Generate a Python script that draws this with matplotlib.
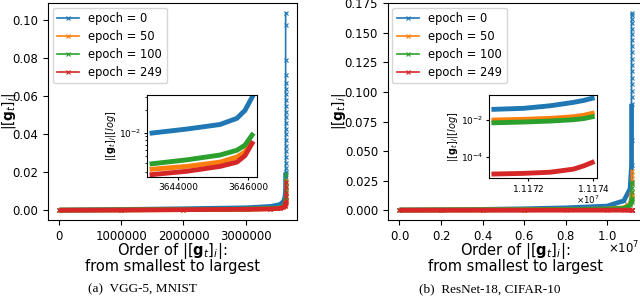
import matplotlib.pyplot as plt
import numpy as np

# sorted |g_i| curves
labels = ["epoch = 0", "epoch = 50", "epoch = 100", "epoch = 249"]
colors = ["tab:blue", "tab:orange", "tab:green", "tab:red"]

# ---- (a) VGG-5, MNIST
vgg_n = 3646114
vgg_body_x = [0, 1000000, 2000000, 3000000, 3400000, 3550000, 3610000,
              3635000, 3643257, 3645200, 3645910]
vgg_body = [
    [0.0001, 0.0004, 0.0008, 0.0013, 0.0020, 0.0030, 0.0045, 0.0070, 0.0100, 0.0130, 0.0200],
    [0.00004, 0.00015, 0.0003, 0.0005, 0.0008, 0.0011, 0.0017, 0.0025, 0.0033, 0.0041, 0.0056],
    [0.00005, 0.0002, 0.0004, 0.0006, 0.0009, 0.0013, 0.0020, 0.0030, 0.0039, 0.0051, 0.0069],
    [0.00003, 0.0001, 0.0003, 0.0005, 0.0007, 0.0010, 0.0015, 0.0022, 0.0028, 0.0036, 0.0050],
]
vgg_tail = [
    [0.022, 0.025, 0.028, 0.031, 0.034, 0.037, 0.040, 0.043, 0.046, 0.049, 0.052,
     0.055, 0.058, 0.061, 0.064, 0.067, 0.071, 0.079, 0.0974, 0.104],
    [0.0073, 0.010, 0.013, 0.016],
    [0.0094, 0.012, 0.015, 0.019],
    [0.0073, 0.009, 0.012, 0.015],
]
vgg_in_x = [
    [3643257, 3644250, 3645200, 3645680, 3645910, 3646114],
    [3643257, 3644250, 3645200, 3645680, 3645910, 3646060],
    [3643257, 3644250, 3645200, 3645680, 3645910, 3646114],
    [3643257, 3644250, 3645200, 3645680, 3645910, 3646114],
]
vgg_in_y = [
    [1.0e-2, 1.13e-2, 1.3e-2, 1.57e-2, 2.0e-2, 3.0e-2],
    [3.3e-3, 3.6e-3, 4.1e-3, 4.8e-3, 5.6e-3, 7.3e-3],
    [3.9e-3, 4.4e-3, 5.1e-3, 5.9e-3, 6.9e-3, 9.4e-3],
    [2.8e-3, 3.1e-3, 3.6e-3, 4.1e-3, 5.0e-3, 7.3e-3],
]

# ---- (b) ResNet-18, CIFAR-10
res_n = 11173962
res_body_x = [0, 2000000, 4000000, 6000000, 8000000, 10000000, 10800000,
              11100000, 11170942, 11172670, 11173380]
res_body = [
    [0.0002, 0.0004, 0.0007, 0.0012, 0.0020, 0.0035, 0.008, 0.018, 0.038, 0.059, 0.090],
    [0.0001, 0.0002, 0.0003, 0.0004, 0.0006, 0.0010, 0.0020, 0.0050, 0.010, 0.0123, 0.015],
    [0.0001, 0.0002, 0.0003, 0.0004, 0.0006, 0.0009, 0.0017, 0.0040, 0.0071, 0.0088, 0.0104],
    [1e-7, 3e-7, 6e-7, 1e-6, 2e-6, 4e-6, 6e-6, 9e-6, 1.2e-5, 1.5e-5, 2.2e-5],
]
res_tail = [
    [0.096, 0.101, 0.107, 0.112, 0.118, 0.123, 0.128, 0.134, 0.139, 0.144,
     0.149, 0.153, 0.158, 0.162, 0.165, 0.167],
    [0.023, 0.026, 0.030, 0.033],
    [0.015, 0.019, 0.022, 0.024],
    [3.3e-5, 5.1e-5, 0.0002, 0.0005],
]
res_in_x = [11170942, 11171850, 11172670, 11173380, 11173700, 11173962]
res_in_y = [
    [3.8e-2, 4.3e-2, 5.9e-2, 9.0e-2, 1.15e-1, 1.5e-1],
    [1.0e-2, 1.09e-2, 1.23e-2, 1.5e-2, 1.8e-2, 2.3e-2],
    [7.1e-3, 7.8e-3, 8.8e-3, 1.04e-2, 1.2e-2, 1.5e-2],
    [1.2e-5, 1.3e-5, 1.5e-5, 2.2e-5, 3.3e-5, 5.1e-5],
]

ylab = r'$|[\mathbf{g}_t]_i|$'
xlab = 'Order of ' + ylab + ':\nfrom smallest to largest'
inlab = r'$|[\mathbf{g}_t]_i|[log]$'
offs = r'$\times10^{7}$'

fig = plt.figure(figsize=(6.4, 2.99), dpi=100)


def main_panel(rect, n, body_x, body, tail, ylab_x):
    ax = fig.add_axes(rect)
    for k in range(4):
        tx = list(range(n - len(tail[k]) + 1, n + 1))
        x = body_x + tx
        y = body[k] + tail[k]
        ax.plot(body_x, body[k], color=colors[k], lw=3.4, solid_capstyle='butt')
        ax.plot(x, y, color=colors[k], lw=1.2, marker='x', ms=3, mew=0.8, label=labels[k])
    ax.tick_params(labelsize=8.4)
    ax.set_ylabel(ylab, fontsize=9.8)
    ax.yaxis.set_label_coords(ylab_x, 0.5)
    ax.set_xlabel(xlab, fontsize=10.5, labelpad=-1, linespacing=0.8)
    ax.legend(loc='upper left', fontsize=8.3, handlelength=1.9, labelspacing=0.42,
              numpoints=1, borderaxespad=0.4)
    return ax


def inset(rect, xs, ys):
    ax = fig.add_axes(rect)
    for k in range(4):
        ax.plot(xs[k], ys[k], color=colors[k], lw=3.5)
    ax.set_yscale('log')
    ax.yaxis.set_minor_formatter(plt.NullFormatter())
    ax.tick_params(labelsize=6.5, length=2.5, pad=1.5)
    ax.tick_params(which='minor', length=1.5)
    ax.set_ylabel(inlab, fontsize=7, labelpad=1)
    return ax


ax1 = main_panel([0.075, 0.264, 0.389, 0.726], vgg_n, vgg_body_x, vgg_body, vgg_tail, -0.122)
ax1.ticklabel_format(axis='x', style='plain', useOffset=False)

ax2 = main_panel([0.606, 0.264, 0.399, 0.726], res_n, res_body_x, res_body, res_tail, -0.155)
ax2.ticklabel_format(axis='x', style='sci', scilimits=(0, 0), useMathText=True)
ax2.xaxis.get_offset_text().set_visible(False)
fig.text(0.999, 1 - 248 / 299, offs, fontsize=8.4, ha='right', va='center')

in1 = inset([0.2297, 0.408, 0.172, 0.274], vgg_in_x, vgg_in_y)
in1.set_ylim(2.6e-3, 3.2e-2)
in1.ticklabel_format(axis='x', style='plain', useOffset=False)
in1.set_xticks([3644000, 3646000])

in2 = inset([0.764, 0.405, 0.169, 0.277], [res_in_x] * 4, res_in_y)
in2.set_ylim(7.4e-6, 0.224)
in2.set_xticks([11172000, 11174000])
in2.ticklabel_format(axis='x', style='sci', scilimits=(0, 0), useMathText=True, useOffset=False)
in2.xaxis.get_offset_text().set_visible(False)
fig.text(600 / 640, 1 - 200 / 299, offs, fontsize=6.2, ha='right', va='center')

fig.text(0.223, 0.022, '(a)  VGG-5, MNIST', family='Liberation Serif', fontsize=9.5, ha='center')
fig.text(0.766, 0.022, '(b)  ResNet-18, CIFAR-10', family='Liberation Serif', fontsize=9.5, ha='center')

fig.savefig('out.png', dpi=100)
